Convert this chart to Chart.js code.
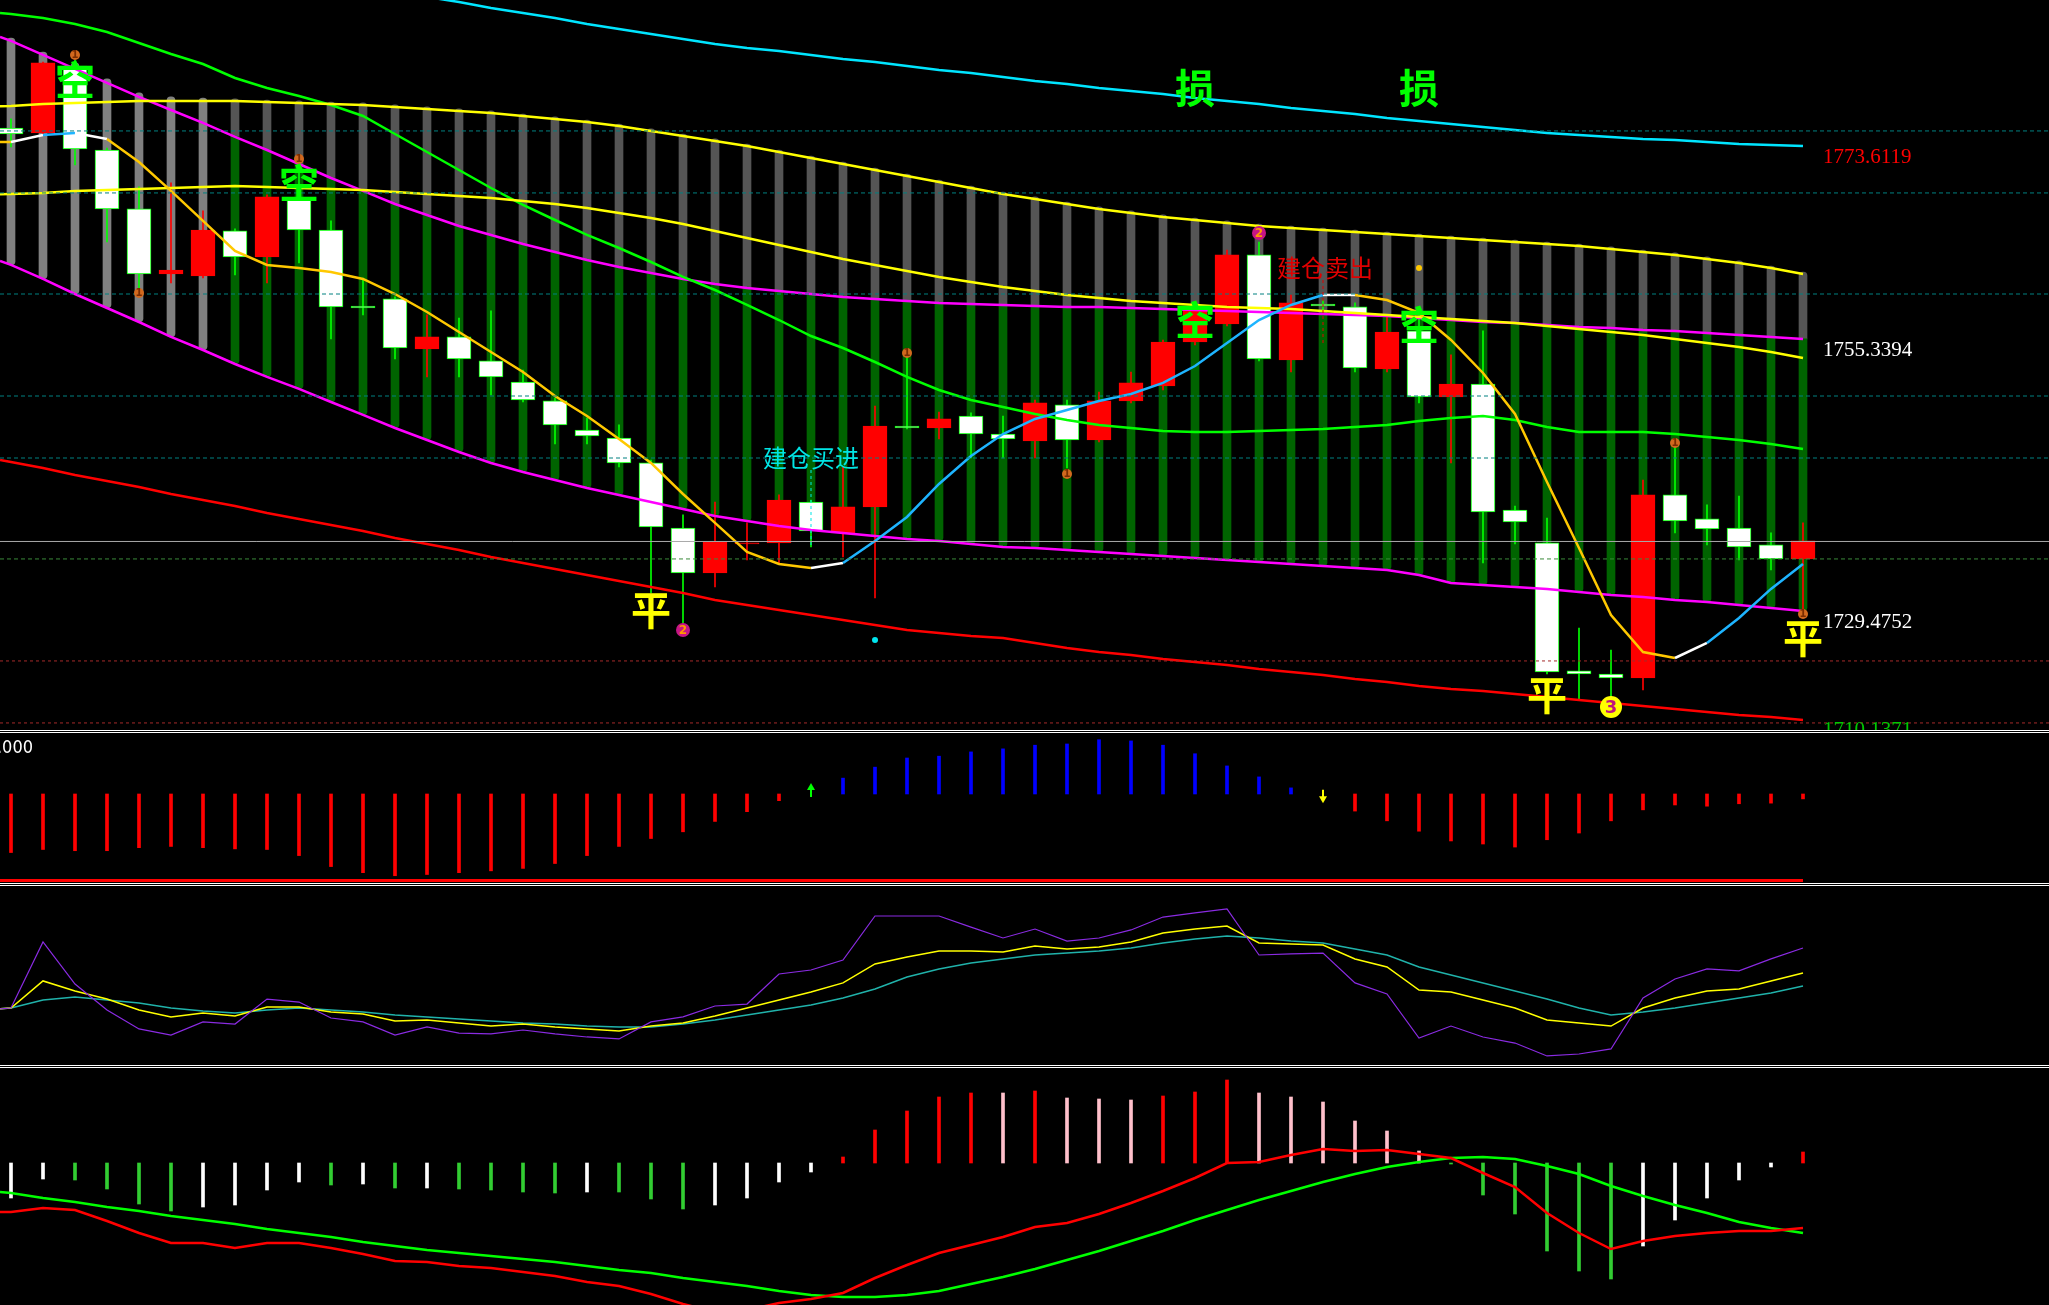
<!DOCTYPE html>
<html>
<head>
<meta charset="utf-8">
<script src="https://cdn.jsdelivr.net/npm/chart.js@4.4.0/dist/chart.umd.min.js"></script>
<style>
html, body { margin: 0; padding: 0; background: #000; }
body { width: 2049px; height: 1305px; position: relative; overflow: hidden; }
canvas { position: absolute; left: 0; }
.sep { position: absolute; left: 0; width: 2049px; height: 1px; background: #fff; }
</style>
</head>
<body>
<canvas id="main" width="2049" height="730" style="top:0px"></canvas>
<div class="sep" style="top:730px"></div>
<div class="sep" style="top:732px"></div>
<canvas id="osc" width="2049" height="149" style="top:733px"></canvas>
<div class="sep" style="top:883px"></div>
<div class="sep" style="top:885px"></div>
<canvas id="kdj" width="2049" height="178" style="top:886px"></canvas>
<div class="sep" style="top:1065px"></div>
<div class="sep" style="top:1067px"></div>
<canvas id="macd" width="2049" height="237" style="top:1068px"></canvas>
<script>
// ---- candles (57 bars, oldest first) ----
var openP  = [1776.44,1775.97,1782.33,1774.35,1768.75,1762.57,1762.38,1766.66,1764.19,1769.70,
              1766.75,1759.53,1760.20,1755.45,1756.59,1754.31,1752.31,1750.51,1747.75,1746.99,
              1744.62,1738.44,1734.17,1736.92,1737.02,1740.91,1737.97,1740.44,1748.13,1747.94,
              1749.08,1747.37,1746.71,1750.13,1746.80,1750.51,1751.93,1756.11,1757.82,1764.38,
              1754.40,1759.72,1759.44,1753.55,1757.16,1750.89,1752.12,1740.15,1737.02,1724.86,
              1724.57,1724.19,1741.58,1739.30,1738.44,1736.83,1735.50];
var highP  = [1777.30,1782.71,1782.90,1774.54,1770.84,1771.22,1768.56,1766.85,1770.08,1773.21,
              1767.61,1762.19,1760.39,1758.68,1758.39,1759.06,1753.45,1750.79,1748.89,1748.23,
              1744.90,1739.68,1740.91,1738.92,1741.58,1741.10,1744.24,1750.03,1755.07,1749.46,
              1749.37,1749.08,1750.60,1750.60,1751.36,1753.26,1756.30,1759.63,1764.85,1765.61,
              1760.67,1760.10,1759.82,1758.49,1759.44,1754.88,1757.16,1740.53,1739.39,1728.94,
              1726.85,1743.00,1746.52,1740.63,1741.48,1737.97,1738.92];
var lowP   = [1774.64,1775.87,1772.93,1765.61,1761.05,1761.72,1762.19,1762.48,1761.72,1763.62,
              1756.40,1758.68,1754.50,1752.79,1752.79,1751.08,1750.41,1746.42,1746.42,1744.24,
              1732.27,1729.42,1732.84,1735.40,1735.12,1736.64,1735.69,1731.79,1747.85,1746.90,
              1745.09,1745.09,1745.09,1744.14,1746.61,1750.32,1751.55,1755.83,1757.63,1754.31,
              1753.26,1759.15,1753.26,1753.26,1750.32,1744.62,1735.12,1736.92,1724.57,1722.10,
              1721.44,1723.05,1737.97,1736.83,1735.40,1734.45,1729.99];
var closeP = [1775.87,1782.62,1774.45,1768.75,1762.57,1762.95,1766.75,1764.19,1769.89,1766.75,
              1759.44,1759.34,1755.54,1756.59,1754.50,1752.79,1750.60,1748.23,1747.18,1744.62,
              1738.54,1734.17,1737.11,1737.02,1741.10,1738.16,1740.44,1748.13,1747.94,1748.80,
              1747.37,1746.90,1750.32,1746.80,1750.51,1752.22,1756.11,1759.44,1764.38,1754.50,
              1759.82,1759.53,1753.64,1757.06,1750.89,1752.12,1739.96,1739.01,1724.76,1724.57,
              1724.19,1741.58,1739.11,1738.35,1736.64,1735.50,1737.21];

// ---- channel columns ----
var chanTop = [1784.99,1783.66,1782.62,1781.10,1779.77,1779.39,1779.29,1779.20,1779.10,1779.01,
               1778.91,1778.82,1778.63,1778.44,1778.25,1778.06,1777.77,1777.49,1777.20,1776.82,
               1776.35,1775.87,1775.40,1774.92,1774.35,1773.78,1773.21,1772.64,1772.07,1771.50,
               1770.93,1770.36,1769.89,1769.41,1768.94,1768.56,1768.18,1767.89,1767.61,1767.32,
               1767.13,1766.94,1766.75,1766.56,1766.37,1766.18,1765.99,1765.80,1765.61,1765.42,
               1765.14,1764.85,1764.57,1764.19,1763.81,1763.33,1762.76];
var chanGreenFrom = 7;   // columns before this are grey all the way down

// ---- main panel lines (edge = value where the line meets the left border) ----
var magHi = [1784.71,1783.38,1782.05,1780.72,1779.39,1778.15,1776.92,1775.59,1774.35,1773.02,
             1771.69,1770.46,1769.22,1768.18,1767.13,1766.28,1765.42,1764.66,1763.90,1763.24,
             1762.67,1762.10,1761.62,1761.24,1760.96,1760.67,1760.39,1760.20,1760.01,1759.82,
             1759.72,1759.63,1759.53,1759.44,1759.44,1759.34,1759.25,1759.15,1759.06,1758.96,
             1758.87,1758.77,1758.68,1758.58,1758.39,1758.20,1758.01,1757.92,1757.73,1757.54,
             1757.44,1757.25,1757.16,1756.97,1756.78,1756.59,1756.40];
var magHiEdge = 1785.09;
var magLo = [1763.43,1762.10,1760.67,1759.34,1758.01,1756.59,1755.35,1754.02,1752.79,1751.65,
             1750.41,1749.18,1747.94,1746.80,1745.66,1744.62,1743.76,1743.00,1742.24,1741.58,
             1740.91,1740.25,1739.58,1739.11,1738.63,1738.25,1737.97,1737.68,1737.40,1737.21,
             1736.92,1736.64,1736.54,1736.35,1736.16,1735.97,1735.78,1735.59,1735.40,1735.21,
             1735.02,1734.83,1734.64,1734.45,1733.98,1733.22,1733.03,1732.84,1732.65,1732.36,
             1732.08,1731.89,1731.60,1731.41,1731.13,1730.84,1730.56];
var magLoEdge = 1763.81;
var yelHi = [1778.53,1778.72,1778.82,1778.91,1779.01,1779.01,1779.01,1779.01,1778.91,1778.82,
             1778.72,1778.63,1778.44,1778.25,1778.06,1777.87,1777.58,1777.30,1777.01,1776.63,
             1776.16,1775.68,1775.21,1774.73,1774.16,1773.59,1773.02,1772.45,1771.88,1771.31,
             1770.74,1770.17,1769.70,1769.22,1768.75,1768.37,1767.99,1767.70,1767.42,1767.13,
             1766.94,1766.75,1766.56,1766.37,1766.18,1765.99,1765.80,1765.61,1765.42,1765.23,
             1764.95,1764.66,1764.38,1764.00,1763.62,1763.14,1762.57];
var yelHiEdge = 1778.50;
var yelMid = [1770.17,1770.27,1770.46,1770.55,1770.65,1770.74,1770.84,1770.93,1770.84,1770.74,
              1770.65,1770.55,1770.36,1770.17,1769.98,1769.79,1769.51,1769.22,1768.84,1768.37,
              1767.89,1767.32,1766.66,1765.99,1765.33,1764.66,1764.00,1763.43,1762.86,1762.29,
              1761.81,1761.34,1760.96,1760.58,1760.29,1760.01,1759.82,1759.63,1759.44,1759.34,
              1759.25,1759.06,1758.87,1758.68,1758.49,1758.30,1758.11,1757.92,1757.63,1757.35,
              1757.06,1756.78,1756.40,1756.02,1755.64,1755.16,1754.59];
var yelMidEdge = 1770.14;
var greenMa = [1787.27,1786.89,1786.32,1785.56,1784.52,1783.47,1782.52,1781.19,1780.24,1779.48,
               1778.63,1777.58,1775.87,1774.16,1772.45,1770.74,1769.13,1767.70,1766.28,1765.04,
               1763.71,1762.29,1761.05,1759.63,1758.20,1756.68,1755.54,1754.21,1752.79,1751.55,
               1750.60,1749.94,1749.27,1748.70,1748.23,1747.94,1747.66,1747.56,1747.56,1747.66,
               1747.75,1747.85,1748.04,1748.23,1748.61,1748.89,1749.08,1748.70,1748.04,1747.56,
               1747.56,1747.56,1747.37,1747.09,1746.80,1746.42,1745.95];
var greenMaEdge = 1787.37;
var redLo = [1744.71,1744.14,1743.48,1742.91,1742.34,1741.67,1741.10,1740.53,1739.87,1739.30,
             1738.73,1738.16,1737.49,1736.92,1736.35,1735.69,1735.12,1734.55,1733.98,1733.41,
             1732.84,1732.27,1731.60,1731.13,1730.65,1730.18,1729.70,1729.23,1728.75,1728.47,
             1728.18,1727.99,1727.52,1727.04,1726.66,1726.38,1726.00,1725.71,1725.43,1725.05,
             1724.76,1724.48,1724.10,1723.81,1723.43,1723.15,1722.96,1722.67,1722.39,1722.10,
             1721.82,1721.53,1721.25,1720.96,1720.68,1720.49,1720.20];
var redLoEdge = 1744.90;
var cyanTop = [null,null,null,null,null,null,null,null,null,null,null,null,
               1789.36,1788.89,1788.41,1787.84,1787.37,1786.89,1786.32,1785.85,
               1785.37,1784.90,1784.42,1784.04,1783.76,1783.38,1783.00,1782.71,1782.33,1781.95,
               1781.67,1781.29,1780.91,1780.62,1780.24,1779.96,1779.67,1779.29,1779.01,1778.72,
               1778.34,1778.06,1777.77,1777.39,1777.11,1776.82,1776.54,1776.25,1775.97,1775.78,
               1775.59,1775.40,1775.30,1775.11,1774.92,1774.83,1774.73];
var fastMa = [1775.11,1775.78,1775.97,1775.40,1773.21,1770.46,1767.61,1764.76,1763.43,1763.14,
              1762.76,1762.10,1760.67,1758.96,1757.06,1755.16,1753.26,1750.98,1749.08,1746.90,
              1744.62,1741.67,1738.92,1736.16,1735.02,1734.64,1735.12,1737.21,1739.49,1742.62,
              1745.28,1747.37,1748.80,1749.65,1750.51,1751.17,1752.22,1753.83,1756.02,1758.20,
              1759.63,1760.58,1760.58,1760.10,1758.87,1756.30,1753.17,1749.27,1742.81,1736.54,
              1730.18,1726.66,1726.09,1727.52,1729.89,1732.65,1735.02];
var fastMaEdge = 1775.11;
// colour of each fastMa segment (edge segment first): w white, c blue, o orange
var fastMaTrend = 'o' + 'wcw' + 'oooooooooooooooooooooo' + 'w' + 'ccccccccccccccc' + 'w' + 'oooooooooo' + 'w' + 'ccc';

// ---- horizontal levels ----
var tealLevels = [1776.16, 1770.27, 1760.67, 1750.98, 1745.09];
var lastPrice = 1737.16;
var greenLevel = 1735.50;
var redLevels = [1725.81, 1719.92];
var priceTags = ['1773.6119', '1755.3394', '1729.4752', '1710.1371'];
var priceTagColors = ['#ff0000', '#ffffff', '#ffffff', '#00c800'];

// ---- signals ----
var kongIdx = [2, 9, 37, 44],   kongAt = [1781.0, 1771.2, 1758.2, 1757.73];
var pingIdx = [20, 48, 56],     pingAt = [1730.65, 1722.58, 1727.99];
var sunIdx  = [37, 44],         sunAt  = [1780.24, 1780.24];
var buyIdx = 25,  buyAt = 1745.09,  buyLine = [1743.95, 1736.64];
var sellIdx = 41, sellAt = 1763.14, sellLine = [1762.0, 1756.02];
var dot1Idx = [2, 4, 9, 28, 33, 52, 56], dot1At = [1783.38, 1760.77, 1773.50, 1755.07, 1743.57, 1746.52, 1730.27];
var dot2Idx = [21, 39], dot2At = [1728.75, 1766.47];
var dot3Idx = [50], dot3At = [1721.44];
var goldDotIdx = [44], goldDotAt = [1763.14];
var cyanDotIdx = [27], cyanDotAt = [1727.80];

// ---- oscillator histogram (panel 2) ----
var oscVal = [-0.96,-0.91,-0.93,-0.93,-0.88,-0.86,-0.88,-0.90,-0.91,-1.01,
              -1.19,-1.29,-1.34,-1.32,-1.29,-1.26,-1.22,-1.14,-1.01,-0.86,
              -0.73,-0.62,-0.45,-0.29,-0.11,null,0.26,0.44,0.59,0.62,
              0.69,0.74,0.80,0.82,0.89,0.87,0.80,0.66,0.46,0.28,
              0.10,null,-0.28,-0.44,-0.61,-0.77,-0.82,-0.87,-0.75,-0.64,
              -0.44,-0.26,-0.18,-0.20,-0.16,-0.15,-0.08];
var oscFloor = -1.418;
var oscTag = '1.000';
var upArrow = { idx: 25, from: -0.05, to: 0.18 };
var downArrow = { idx: 41, from: 0.07, to: -0.15 };

// ---- three-line oscillator (panel 3) ----
var kdjK = [31.3,68.2,44.7,30.2,19.6,16.2,23.5,22.3,36.3,34.6,
            25.7,23.5,16.2,20.7,17.3,16.8,19.0,16.8,15.1,14.0,
            23.5,26.3,32.4,33.5,50.3,52.5,58.1,82.7,82.7,82.7,
            76.5,70.4,75.4,68.7,70.4,74.9,82.1,84.4,86.6,60.9,
            61.5,62.0,45.3,39.1,14.5,21.2,15.1,11.7,4.5,5.6,
            8.4,36.9,47.5,53.1,52.0,58.7,64.8];
var kdjD = [31.3,46.4,40.8,36.3,30.2,26.3,28.5,26.8,31.8,31.8,
            29.1,27.9,24.0,24.6,22.9,21.2,22.3,20.7,19.6,18.4,
            21.2,22.9,26.8,31.3,35.8,40.2,45.3,55.9,59.8,63.1,
            63.1,62.6,65.9,64.3,65.4,68.2,73.2,75.4,77.1,67.6,
            67.0,66.5,58.7,54.2,41.3,40.2,35.8,31.3,24.6,22.9,
            21.2,31.3,36.9,40.8,41.9,46.4,50.8];
var kdjJ = [31.3,35.8,37.4,35.8,34.1,31.3,29.6,28.5,30.2,31.3,
            30.2,29.1,27.4,26.3,25.1,24.0,22.9,22.3,21.2,20.7,
            20.7,22.3,24.6,27.4,30.2,33.0,36.9,41.9,48.6,53.1,
            56.4,58.7,60.9,62.0,63.1,64.8,67.6,69.8,71.5,70.4,
            68.7,67.6,64.3,60.9,54.2,49.7,45.3,40.8,36.3,31.3,
            27.4,29.1,31.3,34.1,36.9,39.7,43.6];
var kdjEdge = 30.8;

// ---- MACD style panel (panel 4) ----
var macdHist = [-0.35,-0.16,-0.17,-0.26,-0.41,-0.48,-0.44,-0.42,-0.27,-0.19,
                -0.22,-0.21,-0.25,-0.25,-0.26,-0.27,-0.29,-0.30,-0.29,-0.29,
                -0.36,-0.46,-0.42,-0.35,-0.19,-0.09,0.06,0.33,0.52,0.66,
                0.70,0.70,0.72,0.65,0.64,0.63,0.67,0.71,0.83,0.70,
                0.66,0.61,0.42,0.32,0.12,-0.01,-0.32,-0.51,-0.88,-1.08,
                -1.16,-0.83,-0.57,-0.35,-0.17,-0.04,0.11];
var macdHistKind = 'WWGGGGWWWWGWGWGGGGWGGGWWWWRRRRRPRPPPRRRPPPPPPGGGGGGWWWWWR';
var macdRed = [-0.49,-0.45,-0.47,-0.58,-0.70,-0.80,-0.80,-0.85,-0.80,-0.80,
               -0.85,-0.91,-0.98,-0.99,-1.03,-1.05,-1.09,-1.13,-1.19,-1.23,
               -1.31,-1.41,-1.49,-1.47,-1.40,-1.36,-1.30,-1.15,-1.02,-0.90,
               -0.82,-0.74,-0.64,-0.60,-0.51,-0.40,-0.28,-0.15,0.00,0.01,
               0.08,0.14,0.12,0.13,0.09,0.05,-0.10,-0.24,-0.50,-0.70,
               -0.86,-0.78,-0.73,-0.70,-0.68,-0.68,-0.65];
var macdRedEdge = -0.49;
var macdGreen = [-0.30,-0.35,-0.39,-0.44,-0.48,-0.53,-0.57,-0.61,-0.66,-0.70,
                 -0.74,-0.79,-0.83,-0.87,-0.90,-0.93,-0.96,-0.99,-1.03,-1.07,
                 -1.10,-1.15,-1.19,-1.23,-1.28,-1.32,-1.34,-1.34,-1.32,-1.28,
                 -1.21,-1.14,-1.06,-0.97,-0.88,-0.78,-0.68,-0.57,-0.47,-0.37,
                 -0.28,-0.19,-0.11,-0.04,0.01,0.05,0.06,0.04,-0.03,-0.11,
                 -0.23,-0.33,-0.42,-0.50,-0.59,-0.65,-0.70];
var macdGreenEdge = -0.29;

// ------------------------------------------------------------------
var X_MIN = -0.34375, X_MAX = 63.6875;   // 32 px per bar across 2049 px
var idx = openP.map(function (_, i) { return i; });
var isUp = idx.map(function (i) { return closeP[i] >= openP[i]; });

function pts(arr, edge) {
    var p = arr.map(function (v, i) { return { x: i, y: v }; }).filter(function (q) { return q.y !== null; });
    return edge === undefined ? p : [{ x: X_MIN, y: edge }].concat(p);
}
function flat(v, from, to) { return [{ x: from, y: v }, { x: to, y: v }]; }
function line(arr, edge, color, width, order, extra) {
    var ds = { type: 'line', data: pts(arr, edge), borderColor: color, borderWidth: width,
               pointRadius: 0, tension: 0, order: order };
    return Object.assign(ds, extra || {});
}
function hLine(v, color, dash, width) {
    return { type: 'line', data: flat(v, X_MIN, X_MAX), borderColor: color, borderWidth: width || 1,
             borderDash: dash, pointRadius: 0, order: 3 };
}
function dots(ix, at, color, r) {
    return { type: 'line', showLine: false, data: ix.map(function (i, k) { return { x: i, y: at[k] }; }),
             pointRadius: r, pointBackgroundColor: color, pointBorderWidth: 0, order: 1 };
}
function makeChart(id, yMin, yMax, datasets, plugins) {
    return new Chart(document.getElementById(id), {
        type: 'bar',
        data: { datasets: datasets },
        options: {
            responsive: false, animation: false, devicePixelRatio: 1, events: [],
            layout: { padding: 0, autoPadding: false },
            plugins: { legend: { display: false }, tooltip: { enabled: false } },
            scales: {
                x: { type: 'linear', min: X_MIN, max: X_MAX, offset: false, display: false },
                y: { type: 'linear', min: yMin, max: yMax, display: false }
            }
        },
        plugins: plugins || []
    });
}

// words, digits and price tags on the main panel
var mainMarks = {
    id: 'mainMarks',
    afterDatasetsDraw: function (chart) {
        var ctx = chart.ctx, xs = chart.scales.x, ys = chart.scales.y, area = chart.chartArea;
        var px = function (i) { return xs.getPixelForValue(i); };
        var py = function (v) { return ys.getPixelForValue(v); };
        ctx.save();
        ctx.textAlign = 'center';
        ctx.textBaseline = 'middle';
        ctx.font = 'bold 10px "DejaVu Sans"';
        ctx.fillStyle = '#7a2c00';
        dot1Idx.forEach(function (i, k) { ctx.fillText('1', px(i), py(dot1At[k]) + 0.5); });
        ctx.font = 'bold 12px "DejaVu Sans"';
        ctx.fillStyle = '#ff9a00';
        dot2Idx.forEach(function (i, k) { ctx.fillText('2', px(i), py(dot2At[k]) + 0.5); });
        ctx.font = 'bold 18px "DejaVu Sans"';
        ctx.fillStyle = '#c0147c';
        dot3Idx.forEach(function (i, k) { ctx.fillText('3', px(i), py(dot3At[k]) + 1); });

        ctx.font = 'bold 40px "Noto Sans CJK SC"';
        ctx.fillStyle = '#00ff00';
        kongIdx.forEach(function (i, k) { ctx.fillText('空', px(i), py(kongAt[k])); });
        sunIdx.forEach(function (i, k) { ctx.fillText('损', px(i), py(sunAt[k])); });
        ctx.fillStyle = '#ffff00';
        pingIdx.forEach(function (i, k) { ctx.fillText('平', px(i), py(pingAt[k])); });

        ctx.font = '24px "Noto Sans CJK SC"';
        ctx.fillStyle = '#00e5e5';
        ctx.fillText('建仓买进', px(buyIdx), py(buyAt));
        ctx.fillStyle = '#e00000';
        ctx.fillText('建仓卖出', px(sellIdx) + 2, py(sellAt));

        ctx.textAlign = 'left';
        ctx.font = '21px "Liberation Serif"';
        priceTags.forEach(function (t, k) {
            var y = py(Number(t));
            if (y > area.bottom) y = area.bottom;
            ctx.fillStyle = priceTagColors[k];
            ctx.fillText(t, 1823, y);
        });
        ctx.restore();
    }
};

var oscMarks = {
    id: 'oscMarks',
    afterDatasetsDraw: function (chart) {
        var ctx = chart.ctx, xs = chart.scales.x, ys = chart.scales.y;
        ctx.save();
        function arrow(a, color) {
            var x = xs.getPixelForValue(a.idx), y0 = ys.getPixelForValue(a.from), y1 = ys.getPixelForValue(a.to);
            var dir = y1 < y0 ? 1 : -1;
            ctx.strokeStyle = color; ctx.fillStyle = color; ctx.lineWidth = 2;
            ctx.beginPath(); ctx.moveTo(x, y0); ctx.lineTo(x, y1 + dir * 5); ctx.stroke();
            ctx.beginPath(); ctx.moveTo(x, y1); ctx.lineTo(x - 4, y1 + dir * 7); ctx.lineTo(x + 4, y1 + dir * 7);
            ctx.closePath(); ctx.fill();
        }
        arrow(upArrow, '#00ff00');
        arrow(downArrow, '#ffff00');
        ctx.font = '18px "Liberation Sans Narrow", "DejaVu Sans Condensed", sans-serif';
        ctx.fillStyle = '#ffffff';
        ctx.textAlign = 'right';
        ctx.textBaseline = 'middle';
        ctx.fillText(oscTag, 33, 15);
        ctx.restore();
    }
};

// ---- panel 1: price ----
var mainSets = [
    { type: 'bar', grouped: false, barThickness: 8, order: 20, borderSkipped: false,
      data: idx.map(function (i) { return { x: i, y: [i < chanGreenFrom ? magLo[i] : magHi[i], chanTop[i]] }; }),
      backgroundColor: idx.map(function (i) { return i < chanGreenFrom ? '#808080' : '#555555'; }),
      borderRadius: function (c) { return c.dataIndex < chanGreenFrom ? 4 : { topLeft: 4, topRight: 4, bottomLeft: 0, bottomRight: 0 }; } },
    { type: 'bar', grouped: false, barThickness: 8, order: 19, borderSkipped: false,
      data: idx.filter(function (i) { return i >= chanGreenFrom; }).map(function (i) { return { x: i, y: [magLo[i], magHi[i]] }; }),
      backgroundColor: '#006400',
      borderRadius: { topLeft: 0, topRight: 0, bottomLeft: 4, bottomRight: 4 } },
    { type: 'bar', grouped: false, barThickness: 1, order: 12,
      data: idx.map(function (i) { return { x: i, y: [lowP[i], highP[i]] }; }),
      backgroundColor: idx.map(function (i) { return isUp[i] ? '#ff0000' : '#00ff00'; }) },
    { type: 'bar', grouped: false, barThickness: 24, order: 11, borderWidth: 1, borderSkipped: false,
      data: idx.map(function (i) { return { x: i, y: [Math.min(openP[i], closeP[i]), Math.max(openP[i], closeP[i])] }; }),
      backgroundColor: idx.map(function (i) { return isUp[i] ? '#ff0000' : '#ffffff'; }),
      borderColor: idx.map(function (i) { return isUp[i] ? '#ff0000' : '#00ff00'; }) },
    line(magHi, magHiEdge, '#ff00ff', 2.5, 8),
    line(magLo, magLoEdge, '#ff00ff', 2.5, 8),
    line(yelHi, yelHiEdge, '#ffff00', 2.5, 7),
    line(yelMid, yelMidEdge, '#ffff00', 2.5, 7),
    line(greenMa, greenMaEdge, '#00ff00', 2.5, 7),
    line(redLo, redLoEdge, '#ff0000', 2.5, 7),
    line(cyanTop, undefined, '#00e5ff', 2.5, 7),
    line(fastMa, fastMaEdge, '#ffc800', 2.5, 6, { segment: { borderColor: function (c) {
        var k = fastMaTrend.charAt(c.p0DataIndex);
        return k === 'w' ? '#ffffff' : (k === 'c' ? '#1eb4ff' : '#ffc800');
    } } }),
    hLine(lastPrice, '#a8a8a8', []),
    hLine(greenLevel, '#3a8a3a', [4, 3]),
    { type: 'line', data: [{ x: buyIdx, y: buyLine[0] }, { x: buyIdx, y: buyLine[1] }], borderColor: '#00e5e5',
      borderWidth: 1, borderDash: [3, 3], pointRadius: 0, order: 2 },
    { type: 'line', data: [{ x: sellIdx, y: sellLine[0] }, { x: sellIdx, y: sellLine[1] }], borderColor: '#e00000',
      borderWidth: 1, borderDash: [3, 3], pointRadius: 0, order: 2 },
    dots(dot1Idx, dot1At, '#d2691e', 5),
    dots(dot2Idx, dot2At, '#c71585', 7),
    dots(dot3Idx, dot3At, '#ffff00', 11),
    dots(goldDotIdx, goldDotAt, '#ffc800', 3),
    dots(cyanDotIdx, cyanDotAt, '#00e5ee', 3)
];
tealLevels.forEach(function (v) { mainSets.push(hLine(v, '#008080', [4, 3])); });
redLevels.forEach(function (v) { mainSets.push(hLine(v, '#a52a2a', [3, 3])); });
makeChart('main', 1719.25, 1788.6, mainSets, [mainMarks]);

// ---- panel 2: histogram ----
var oscPts = pts(oscVal);
makeChart('osc', -1.443, 1.0, [
    { type: 'bar', grouped: false, barThickness: 3, order: 2, data: oscPts,
      backgroundColor: oscPts.map(function (p) { return p.y < 0 ? '#ff0000' : '#0000ff'; }) },
    { type: 'line', data: flat(oscFloor, X_MIN, 56), borderColor: '#ff0000', borderWidth: 3, pointRadius: 0, order: 1 }
], [oscMarks]);

// ---- panel 3: three lines ----
makeChart('kdj', 0, 99.45, [
    line(kdjJ, kdjEdge, '#20b2aa', 1.5, 3),
    line(kdjD, kdjEdge, '#ffff00', 1.5, 2),
    line(kdjK, kdjEdge, '#8a2be2', 1.2, 1)
]);

// ---- panel 4: histogram + two lines ----
var histColor = { W: '#ffffff', G: '#32cd32', R: '#ff0000', P: '#ffc0cb' };
makeChart('macd', -1.42, 0.95, [
    { type: 'bar', grouped: false, barThickness: 3, order: 3, data: pts(macdHist),
      backgroundColor: idx.map(function (i) { return histColor[macdHistKind.charAt(i)]; }) },
    line(macdGreen, macdGreenEdge, '#00ff00', 2.5, 2),
    line(macdRed, macdRedEdge, '#ff0000', 2.5, 1)
]);
</script>
</body>
</html>
